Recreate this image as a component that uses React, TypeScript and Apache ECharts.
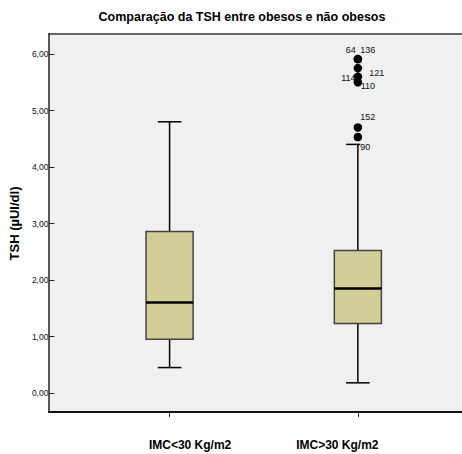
import React, { useEffect, useRef } from 'react';
import * as echarts from 'echarts';

const categories = ['IMC<30 Kg/m2', 'IMC>30 Kg/m2'];
const whiskerLow = [0.45, 0.18];
const quartile1 = [0.95, 1.23];
const medians = [1.6, 1.85];
const quartile3 = [2.86, 2.52];
const whiskerHigh = [4.8, 4.4];

const outlierCategory = [1, 1, 1, 1, 1, 1, 1];
const outlierValues = [5.91, 5.91, 5.75, 5.6, 5.5, 4.7, 4.53];
const outlierCases = ['64', '136', '121', '114', '110', '152', '90'];
// label placement (style only)
const outlierLabelOffsets = [[-7, -9], [10, -9], [19, 5], [-9.5, 1], [10, 3.5], [10, -10], [7.5, 10]];

const yMin = 0;
const yMax = 6;
const yInterval = 1;

const FONT = '"Liberation Sans", Arial, sans-serif';

export default function App() {
  const ref = useRef<HTMLDivElement>(null);
  useEffect(() => {
    if (!ref.current) return;
    const chart = echarts.init(ref.current, null, { renderer: 'svg' });
    const boxData = categories.map((_, i) => [i, whiskerLow[i], quartile1[i], medians[i], quartile3[i], whiskerHigh[i]]);
    const outlierData = outlierValues.map((v, i) => ({
      value: [outlierCategory[i], v],
      label: {
        show: true,
        formatter: outlierCases[i],
        position: 'inside',
        offset: outlierLabelOffsets[i],
        ...(outlierCases[i] === '90' ? { backgroundColor: '#f0f0f0' } : {}),
      },
    }));
    chart.setOption({
      animation: false,
      backgroundColor: '#ffffff',
      title: {
        text: 'Comparação da TSH entre obesos e não obesos',
        left: 237,
        top: 5,
        textAlign: 'center',
        textStyle: { fontFamily: FONT, fontSize: 12.5, fontWeight: 'bold', color: '#000' },
      },
      graphic: [
        { type: 'rect', z: -10, shape: { x: 49, y: 34, width: 430, height: 378 }, style: { fill: '#f0f0f0' }, silent: true },
        { type: 'line', z: 1, shape: { x1: 49, y1: 34, x2: 462, y2: 34 }, style: { stroke: '#666', lineWidth: 2 }, silent: true },
        { type: 'line', z: 1, shape: { x1: 49, y1: 33, x2: 49, y2: 413 }, style: { stroke: '#222', lineWidth: 1.5 }, silent: true },
        { type: 'line', z: 1, shape: { x1: 48, y1: 412, x2: 462, y2: 412 }, style: { stroke: '#111', lineWidth: 2 }, silent: true },
      ],
      grid: { left: 70, right: 10, top: 54, bottom: 61, containLabel: false },
      xAxis: {
        type: 'category',
        data: categories,
        offset: 19,
        axisLine: { show: false, onZero: false },
        axisTick: { show: true, alignWithLabel: true, length: 5, lineStyle: { color: '#222', width: 1 } },
        axisLabel: {
          margin: 27,
          formatter: (v: string, i: number) => (i === 0 ? '{a|' + v + '}' : '{b|' + v + '}'),
          rich: {
            a: { fontFamily: FONT, fontSize: 12, fontWeight: 'bold', color: '#000', padding: [0, 0, 0, 41] },
            b: { fontFamily: FONT, fontSize: 12, fontWeight: 'bold', color: '#000', padding: [0, 41, 0, 0] },
          },
        },
        splitLine: { show: false },
      },
      yAxis: {
        type: 'value',
        min: yMin,
        max: yMax,
        interval: yInterval,
        offset: 21,
        name: 'TSH (µUI/dl)',
        nameLocation: 'middle',
        nameGap: 31,
        nameTextStyle: { fontFamily: FONT, fontSize: 13, fontWeight: 'bold', color: '#000' },
        axisLine: { show: false },
        axisTick: { show: true, length: 5, lineStyle: { color: '#222', width: 1 } },
        axisLabel: {
          margin: 6,
          fontFamily: FONT,
          fontSize: 8.5,
          color: '#111',
          formatter: (v: number) => v.toFixed(2).replace('.', ','),
        },
        splitLine: { show: false },
      },
      series: [
        {
          type: 'custom',
          data: boxData,
          encode: { x: 0, y: [1, 2, 3, 4, 5] },
          renderItem: (params: any, api: any) => {
            const x = api.value(0);
            const pLow = api.coord([x, api.value(1)]);
            const pQ1 = api.coord([x, api.value(2)]);
            const pMed = api.coord([x, api.value(3)]);
            const pQ3 = api.coord([x, api.value(4)]);
            const pHigh = api.coord([x, api.value(5)]);
            const band = api.size([1, 0])[0];
            const bw = band * 0.25;
            const cw = band * 0.125;
            const cx = pMed[0];
            const wStyle = { stroke: '#000', lineWidth: 1.5 };
            return {
              type: 'group',
              children: [
                { type: 'line', shape: { x1: cx, y1: pLow[1], x2: cx, y2: pQ1[1] }, style: wStyle },
                { type: 'line', shape: { x1: cx, y1: pQ3[1], x2: cx, y2: pHigh[1] }, style: wStyle },
                { type: 'line', shape: { x1: cx - cw / 2, y1: pLow[1], x2: cx + cw / 2, y2: pLow[1] }, style: wStyle },
                { type: 'line', shape: { x1: cx - cw / 2, y1: pHigh[1], x2: cx + cw / 2, y2: pHigh[1] }, style: wStyle },
                {
                  type: 'rect',
                  shape: { x: cx - bw / 2, y: pQ3[1], width: bw, height: pQ1[1] - pQ3[1] },
                  style: { fill: '#d3ce97', stroke: '#444', lineWidth: 1.5 },
                },
                { type: 'line', shape: { x1: cx - bw / 2, y1: pMed[1], x2: cx + bw / 2, y2: pMed[1] }, style: { stroke: '#000', lineWidth: 2.5 } },
              ],
            };
          },
          z: 2,
        },
        {
          type: 'scatter',
          data: outlierData,
          symbol: 'circle',
          symbolSize: 8.5,
          itemStyle: { color: '#000', opacity: 1 },
          clip: false,
          label: { fontFamily: FONT, fontSize: 9, color: '#111', textBorderWidth: 0 },
          z: 3,
        },
      ],
    });
    return () => chart.dispose();
  }, []);
  return <div ref={ref} style={{ width: 462, height: 454, position: 'absolute', left: 0, top: 0 }} />;
}
